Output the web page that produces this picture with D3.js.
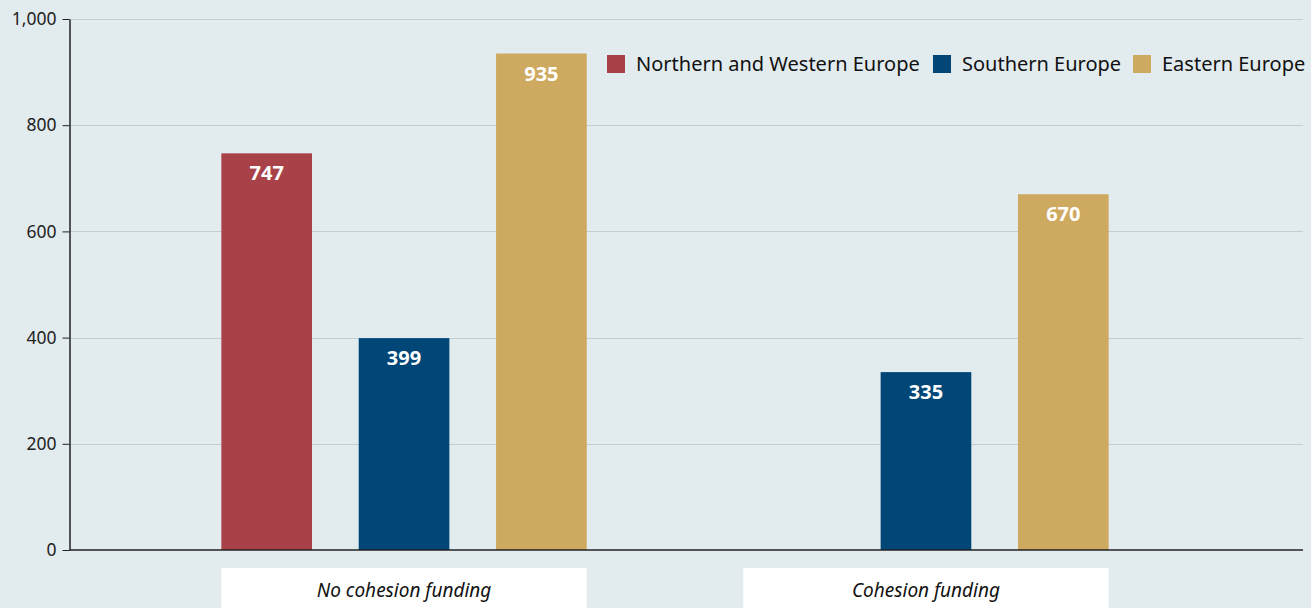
<!DOCTYPE html>
<html>
<head>
<meta charset="utf-8">
<script src="https://cdn.jsdelivr.net/npm/d3@7"></script>
<style>
  html, body { margin: 0; padding: 0; background: #e2ebee; }
  svg { display: block; font-family: "Source Sans Pro", "Noto Sans", sans-serif; }
  .grid line { stroke: #c3cdd2; stroke-width: 1; }
  .y-axis text { font-size: 17.5px; fill: #222; }
  .y-axis line, .y-axis path { stroke: #222; }
  .valueLabel { fill: #fff; font-weight: bold; font-size: 20px; text-anchor: middle; }
  .catLabel { font-style: italic; font-size: 19px; fill: #111; text-anchor: middle; }
  .legendText { font-size: 20px; fill: #111; }
</style>
</head>
<body>
<div id="chart"></div>
<script>
var categories = ['No cohesion funding', 'Cohesion funding'];
var seriesNames = ['Northern and Western Europe', 'Southern Europe', 'Eastern Europe'];
var seriesColors = ['#a84248', '#004677', '#cea960'];
var northernWestern = [747, null];
var southern = [399, 335];
var eastern = [935, 670];
var yTicks = [0, 200, 400, 600, 800, 1000];

var seriesValues = [northernWestern, southern, eastern];

var width = 1311;
var height = 608;
var axisX = 69.5;
var axisEnd = 1303;
var yTop = 19;
var yBottom = 550;

var svg = d3.select('#chart').append('svg')
    .attr('width', width)
    .attr('height', height);

var x0 = d3.scaleBand()
    .domain(categories)
    .range([70, 1260])
    .paddingInner(0.3)
    .paddingOuter(0.29);

var x1 = d3.scaleBand()
    .domain(seriesNames)
    .range([0, x0.bandwidth()])
    .paddingInner(0.34)
    .paddingOuter(0);

var y = d3.scaleLinear()
    .domain([0, 1000])
    .range([yBottom, yTop]);

// grid lines
svg.append('g').attr('class', 'grid')
    .selectAll('line')
    .data(yTicks.slice(1))
    .enter().append('line')
    .attr('x1', axisX)
    .attr('x2', axisEnd)
    .attr('y1', function (d) { return Math.round(y(d)) + 0.5; })
    .attr('y2', function (d) { return Math.round(y(d)) + 0.5; });

// bars
var rows = [];
categories.forEach(function (c, ci) {
    seriesNames.forEach(function (s, si) {
        var v = seriesValues[si][ci];
        if (v != null) rows.push({ cat: c, series: s, value: v, color: seriesColors[si] });
    });
});

var bars = svg.append('g').attr('class', 'bars');
bars.selectAll('rect')
    .data(rows)
    .enter().append('rect')
    .attr('x', function (d) { return x0(d.cat) + x1(d.series); })
    .attr('y', function (d) { return y(d.value); })
    .attr('width', x1.bandwidth())
    .attr('height', function (d) { return y(0) - y(d.value); })
    .attr('fill', function (d) { return d.color; });

bars.selectAll('.valueLabel')
    .data(rows)
    .enter().append('text')
    .attr('class', 'valueLabel')
    .attr('x', function (d) { return x0(d.cat) + x1(d.series) + x1.bandwidth() / 2; })
    .attr('y', function (d) { return y(d.value) + 27; })
    .text(function (d) { return d3.format(',')(d.value); });

// y axis
var yAxis = d3.axisLeft(y)
    .tickValues(yTicks)
    .tickFormat(d3.format(','))
    .tickSize(7)
    .tickPadding(6)
    .tickSizeOuter(0);

var yG = svg.append('g')
    .attr('class', 'y-axis')
    .attr('transform', 'translate(' + axisX + ',0)')
    .call(yAxis);
yG.selectAll('text').style('font-family', '"Source Sans Pro", "Noto Sans", sans-serif');
yG.select('.domain').attr('stroke-width', 1.5);

// x axis baseline
svg.append('line')
    .attr('x1', axisX)
    .attr('x2', axisEnd)
    .attr('y1', y(0))
    .attr('y2', y(0))
    .attr('stroke', '#222')
    .attr('stroke-width', 1.5);

// category label boxes
var cats = svg.append('g').attr('class', 'cats');
cats.selectAll('rect')
    .data(categories)
    .enter().append('rect')
    .attr('x', function (d) { return x0(d); })
    .attr('y', 568)
    .attr('width', x0.bandwidth())
    .attr('height', 45)
    .attr('fill', '#fff');
cats.selectAll('text')
    .data(categories)
    .enter().append('text')
    .attr('class', 'catLabel')
    .attr('x', function (d) { return x0(d) + x0.bandwidth() / 2; })
    .attr('y', 597)
    .text(function (d) { return d; });

// legend
var legendX = [607, 933, 1133];
var legend = svg.append('g').attr('class', 'legend');
var items = legend.selectAll('g')
    .data(seriesNames)
    .enter().append('g')
    .attr('transform', function (d, i) { return 'translate(' + legendX[i] + ',55)'; });
items.append('rect')
    .attr('width', 18)
    .attr('height', 18)
    .attr('fill', function (d, i) { return seriesColors[i]; });
items.append('text')
    .attr('class', 'legendText')
    .attr('x', 29)
    .attr('y', 16)
    .text(function (d) { return d; });
</script>
</body>
</html>
